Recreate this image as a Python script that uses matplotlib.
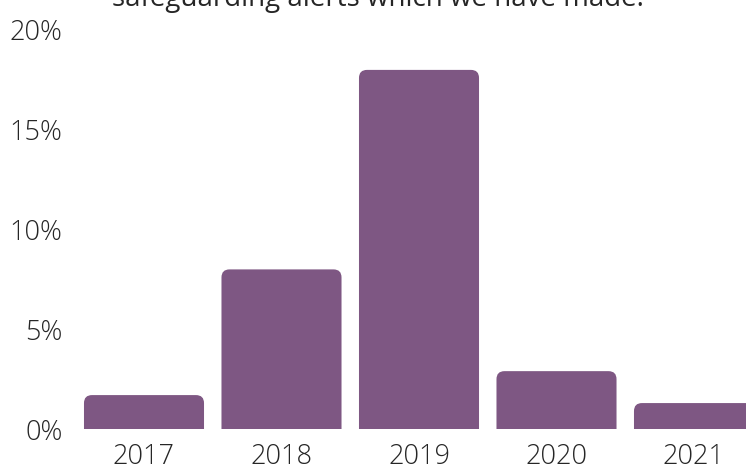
import numpy as np
import matplotlib.pyplot as plt
from matplotlib.patches import FancyBboxPatch

years = ['2017', '2018', '2019', '2020', '2021']
share = [1.7, 8.0, 18.0, 2.9, 1.3]   # % of alerts
yticks = [0, 5, 10, 15, 20]
ytick_labels = ['0%', '5%', '10%', '15%', '20%']
title = 'safeguarding alerts which we have made.'

bar_color = '#7E5783'
text_color = '#262626'

plt.rcParams['font.family'] = ['Open Sans', 'DejaVu Sans']

fig = plt.figure(figsize=(7.46, 4.69), dpi=100)
ax = fig.add_axes([75 / 746, 40 / 469, 671 / 746, 399 / 469])

x = np.arange(len(years))
ax.set_xlim(-69 / 137.5, 602 / 137.5)
ax.set_ylim(0, 20)

# rounded tops: draw each bar as a rounded box that dips below zero, the axes clip the bottom
width = 0.873
r_px = 8
px_x = 671 / (602 / 137.5 + 69 / 137.5)   # pixels per x unit
px_y = 399 / 20                           # pixels per y unit
r = r_px / px_x
aspect = px_x / px_y
for xi, v in zip(x, share):
    patch = FancyBboxPatch((xi - width / 2, -2), width, v + 2,
                           boxstyle=f'round,pad=0,rounding_size={r}',
                           mutation_aspect=aspect,
                           facecolor=bar_color, edgecolor='none')
    ax.add_patch(patch)

ax.set_xticks(x)
ax.set_xticklabels(years)
ax.set_yticks(yticks)
ax.set_yticklabels(ytick_labels)
ax.tick_params(length=0, labelsize=19.5, labelcolor=text_color)
ax.tick_params(axis='x', pad=10)
ax.tick_params(axis='y', pad=9)
for lab in ax.get_xticklabels() + ax.get_yticklabels():
    lab.set_fontweight('light')
for s in ax.spines.values():
    s.set_visible(False)

fig.text(378 / 746, 1 - 6 / 469, title, ha='center', va='baseline',
         fontsize=20, color=text_color)

fig.savefig('out.png', dpi=100)
